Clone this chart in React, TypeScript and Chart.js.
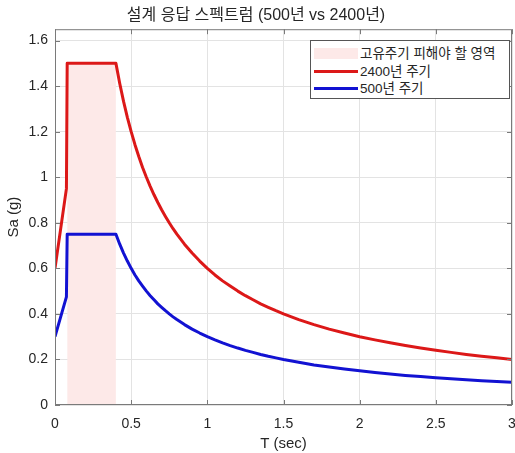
import React, { useEffect, useRef } from "react";
import { Chart, registerables } from "chart.js";

Chart.register(...registerables);

const TITLE = "설계 응답 스펙트럼 (500년 vs 2400년)";
const X_LABEL = "T (sec)";
const Y_LABEL = "Sa (g)";
const LEGEND_LABELS = ["고유주기 피해야 할 영역", "2400년 주기", "500년 주기"];

const X_TICKS = [0, 0.5, 1, 1.5, 2, 2.5, 3];
const Y_TICKS = [0, 0.2, 0.4, 0.6, 0.8, 1, 1.2, 1.4, 1.6];
const X_MAX = 3;
const Y_MAX = 1.65;

const AVOID_RANGE = [0.08, 0.4];
const AVOID_TOP = 1.5;

const T_VALUES = [
  0, 0.075, 0.08, 0.4, 0.425, 0.45, 0.475, 0.5, 0.525, 0.55, 0.575, 0.6, 0.625,
  0.65, 0.675, 0.7, 0.725, 0.75, 0.775, 0.8, 0.85, 0.9, 0.95, 1.0, 1.05, 1.1,
  1.15, 1.2, 1.25, 1.3, 1.35, 1.4, 1.45, 1.5, 1.6, 1.7, 1.8, 1.9, 2.0, 2.1, 2.2,
  2.3, 2.4, 2.5, 2.6, 2.7, 2.8, 2.9, 3.0,
];
const SA_2400 = [
  0.6, 0.95, 1.5, 1.5, 1.412, 1.333, 1.263, 1.2, 1.143, 1.091, 1.043, 1.0,
  0.96, 0.923, 0.889, 0.857, 0.828, 0.8, 0.774, 0.75, 0.706, 0.667, 0.632, 0.6,
  0.571, 0.545, 0.522, 0.5, 0.48, 0.462, 0.444, 0.429, 0.414, 0.4, 0.375, 0.353,
  0.333, 0.316, 0.3, 0.286, 0.273, 0.261, 0.25, 0.24, 0.231, 0.222, 0.214,
  0.207, 0.2,
];
const SA_500 = [
  0.3, 0.475, 0.75, 0.75, 0.706, 0.667, 0.632, 0.6, 0.571, 0.545, 0.522, 0.5,
  0.48, 0.462, 0.444, 0.429, 0.414, 0.4, 0.387, 0.375, 0.353, 0.333, 0.316, 0.3,
  0.286, 0.273, 0.261, 0.25, 0.24, 0.231, 0.222, 0.214, 0.207, 0.2, 0.188,
  0.176, 0.167, 0.158, 0.15, 0.143, 0.136, 0.13, 0.125, 0.12, 0.115, 0.111,
  0.107, 0.103, 0.1,
];

const RED = "#dc1818";
const BLUE = "#1212d2";
const SHADE = "#fde9e8";
const AXIS = "#7a7a7a";
const TEXT = "#262626";
const FONT = "'Liberation Sans', Arial, 'Noto Sans CJK KR', sans-serif";

const boxPlugin = {
  id: "boxPlugin",
  afterDatasetsDraw(chart: any) {
    const { ctx, chartArea, scales } = chart;
    const { left, right, top, bottom } = chartArea;
    ctx.save();
    ctx.strokeStyle = AXIS;
    ctx.lineWidth = 1;
    ctx.strokeRect(left + 0.5, top + 0.5, right - left - 1, bottom - top - 1);
    const tl = 5;
    ctx.beginPath();
    X_TICKS.forEach((v) => {
      const x = Math.round(scales.x.getPixelForValue(v)) + 0.5;
      ctx.moveTo(x, bottom);
      ctx.lineTo(x, bottom - tl);
      ctx.moveTo(x, top);
      ctx.lineTo(x, top + tl);
    });
    Y_TICKS.forEach((v) => {
      const y = Math.round(scales.y.getPixelForValue(v)) + 0.5;
      ctx.moveTo(left, y);
      ctx.lineTo(left + tl, y);
      ctx.moveTo(right, y);
      ctx.lineTo(right - tl, y);
    });
    ctx.stroke();
    ctx.restore();
  },
};

export default function App() {
  const ref = useRef<HTMLCanvasElement | null>(null);

  useEffect(() => {
    document.body.style.margin = "0";
    const canvas = ref.current;
    if (!canvas) return;
    const chart = new Chart(canvas, {
      type: "line",
      data: {
        datasets: [
          {
            label: LEGEND_LABELS[0],
            data: AVOID_RANGE.map((x) => ({ x, y: AVOID_TOP })),
            borderWidth: 0,
            borderColor: "rgba(0,0,0,0)",
            backgroundColor: SHADE,
            fill: "origin",
            pointRadius: 0,
            order: 3,
          },
          {
            label: LEGEND_LABELS[1],
            data: T_VALUES.map((x, i) => ({ x, y: SA_2400[i] })),
            borderColor: RED,
            borderWidth: 3,
            pointRadius: 0,
            tension: 0,
            borderJoinStyle: "round",
            fill: false,
            order: 2,
          },
          {
            label: LEGEND_LABELS[2],
            data: T_VALUES.map((x, i) => ({ x, y: SA_500[i] })),
            borderColor: BLUE,
            borderWidth: 3,
            pointRadius: 0,
            tension: 0,
            borderJoinStyle: "round",
            fill: false,
            order: 1,
          },
        ],
      },
      options: {
        animation: false,
        responsive: false,
        maintainAspectRatio: false,
        layout: { padding: { left: 0, right: 3, top: 0, bottom: 0 } },
        plugins: {
          legend: { display: false },
          tooltip: { enabled: false },
          title: {
            display: true,
            text: TITLE,
            color: TEXT,
            font: { family: FONT, size: 16, weight: "normal", lineHeight: 1.2 },
            padding: { top: 6, bottom: 4 },
          },
        },
        scales: {
          x: {
            type: "linear",
            min: 0,
            max: X_MAX,
            afterBuildTicks: (s: any) => {
              s.ticks = X_TICKS.map((v) => ({ value: v }));
            },
            afterFit: (s: any) => {
              s.height = 48;
              s.paddingLeft = 0;
              s.paddingRight = 0;
            },
            ticks: {
              color: TEXT,
              font: { family: FONT, size: 14 },
              padding: 11,
              maxRotation: 0,
              autoSkip: false,
              callback: (v: any) => String(v),
            },
            grid: { color: "#e3e3e3", drawTicks: false },
            border: { display: false },
            title: {
              display: true,
              text: X_LABEL,
              color: TEXT,
              font: { family: FONT, size: 15 },
              padding: { top: 0, bottom: 0 },
            },
          },
          y: {
            type: "linear",
            min: 0,
            max: Y_MAX,
            afterBuildTicks: (s: any) => {
              s.ticks = Y_TICKS.map((v) => ({ value: v }));
            },
            afterFit: (s: any) => {
              s.width = 55;
              s.paddingTop = 0;
              s.paddingBottom = 0;
            },
            ticks: {
              color: TEXT,
              font: { family: FONT, size: 14 },
              padding: 7,
              autoSkip: false,
              callback: (v: any) => String(v),
            },
            grid: { color: "#e3e3e3", drawTicks: false },
            border: { display: false },
            title: {
              display: true,
              text: Y_LABEL,
              color: TEXT,
              font: { family: FONT, size: 15 },
              padding: { top: 5, bottom: 0 },
            },
          },
        },
      },
      plugins: [boxPlugin],
    } as any);
    return () => chart.destroy();
  }, []);

  const row: React.CSSProperties = {
    display: "flex",
    alignItems: "center",
    height: 17.6,
  };
  const sample: React.CSSProperties = {
    width: 44,
    marginRight: 2,
  };

  return (
    <div style={{ position: "relative", width: 515, height: 453 }}>
      <canvas ref={ref} width={515} height={453} style={{ display: "block" }} />
      <div
        style={{
          position: "absolute",
          left: 310,
          top: 40,
          width: 200,
          height: 59,
          boxSizing: "border-box",
          border: "1px solid #555",
          background: "#fff",
          padding: "4px 0 0 3px",
          fontFamily: FONT,
          fontSize: 13.5,
          color: TEXT,
          lineHeight: 1,
        }}
      >
        <div style={row}>
          <div style={{ ...sample, height: 11, background: SHADE }} />
          <span>{LEGEND_LABELS[0]}</span>
        </div>
        <div style={row}>
          <div style={{ ...sample, height: 3, background: RED }} />
          <span>{LEGEND_LABELS[1]}</span>
        </div>
        <div style={row}>
          <div style={{ ...sample, height: 3, background: BLUE }} />
          <span>{LEGEND_LABELS[2]}</span>
        </div>
      </div>
    </div>
  );
}
